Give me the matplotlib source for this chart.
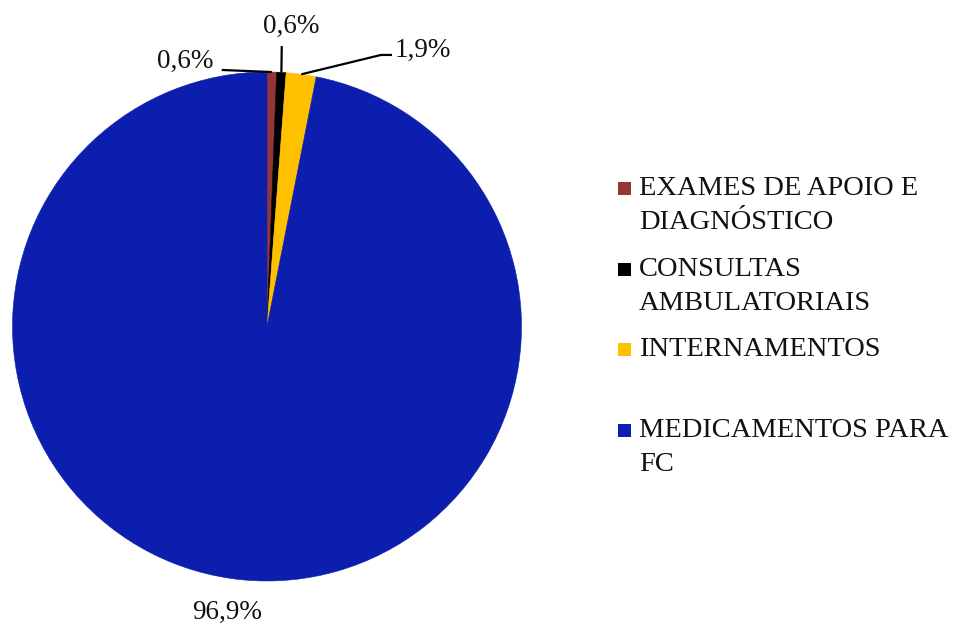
import matplotlib
matplotlib.use("Agg")
import matplotlib.pyplot as plt
from matplotlib.patches import Rectangle
import numpy as np

plt.rcParams["font.family"] = ["Liberation Serif", "DejaVu Serif"]

CATEGORIES = ["EXAMES DE APOIO E\nDIAGNÓSTICO", "CONSULTAS\nAMBULATORIAIS",
              "INTERNAMENTOS", "MEDICAMENTOS PARA\nFC"]
SHARES = [0.6, 0.6, 1.9, 96.9]
COLORS = ["#943634", "#000000", "#FFC000", "#0B1EAE"]

# label placement in pie units, and leader path from the label towards the slice
LABEL_POS = [(-0.322, 1.015), (0.097, 1.152), (0.613, 1.060), (-0.158, -1.150)]
LEADERS = [[(-0.178, 1.008)], [(0.058, 1.102)], [(0.491, 1.067), (0.448, 1.067)], None]

W, H = 966, 625
fig = plt.figure(figsize=(W / 100, H / 100), dpi=100)
cx, cy, r = 267, 326.5, 254.5
ax = fig.add_axes([(cx - r) / W, (H - cy - r) / H, 2 * r / W, 2 * r / H])

wedges, _ = ax.pie(SHARES, colors=COLORS, startangle=90, counterclock=False,
                   radius=1, wedgeprops=dict(linewidth=0))
for w in wedges:
    # thin same-colour edge hides anti-aliasing seams between slices
    w.set_edgecolor(w.get_facecolor())
    w.set_linewidth(0.4)
ax.set_xlim(-1, 1); ax.set_ylim(-1, 1)
ax.set_aspect("equal")
ax.axis("off")

# percentage labels with leader lines to the wedge mid-angle
for w, share, (lx, ly), path in zip(wedges, SHARES, LABEL_POS, LEADERS):
    txt = f"{share:.1f}%".replace(".", ",")
    ax.text(lx, ly, txt, ha="center", va="baseline", fontsize=19.5,
            color="#111111", clip_on=False)
    if path:
        mid = np.deg2rad((w.theta1 + w.theta2) / 2)
        pts = path + [(np.cos(mid), np.sin(mid))]
        xs, ys = zip(*pts)
        ax.plot(xs, ys, color="black", lw=1.6, clip_on=False, zorder=5,
                solid_capstyle="butt")

# legend on the right, drawn line by line
base0, step, lead = 195, 80.6, 34
for i, (lab, col) in enumerate(zip(CATEGORIES, COLORS)):
    yb = base0 + i * step
    fig.add_artist(Rectangle((618 / W, (H - yb) / H), 13 / W, 13 / H,
                             transform=fig.transFigure, facecolor=col,
                             edgecolor="none"))
    for j, line in enumerate(lab.split("\n")):
        fig.text(639 / W, (H - yb - j * lead) / H, line, ha="left",
                 va="baseline", fontsize=20.5, color="#111111")

fig.savefig("out.png", dpi=100, facecolor="white")
